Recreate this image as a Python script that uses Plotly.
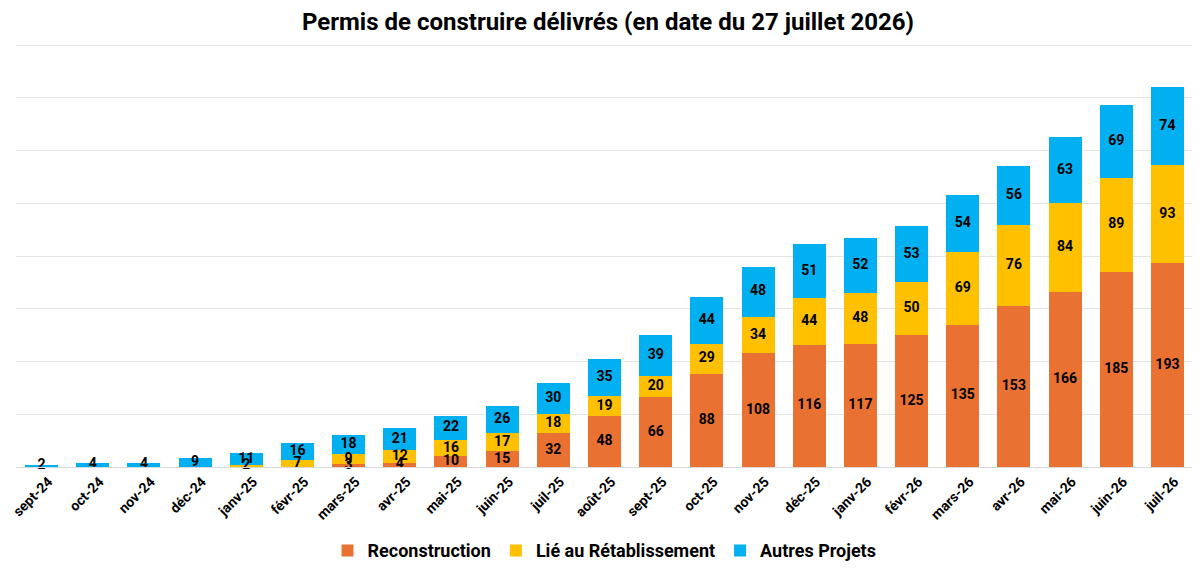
import plotly.graph_objects as go

mois = ['sept-24', 'oct-24', 'nov-24', 'déc-24', 'janv-25', 'févr-25', 'mars-25', 'avr-25',
        'mai-25', 'juin-25', 'juil-25', 'août-25', 'sept-25', 'oct-25', 'nov-25', 'déc-25',
        'janv-26', 'févr-26', 'mars-26', 'avr-26', 'mai-26', 'juin-26', 'juil-26']
reconstruction = [0, 0, 0, 0, 0, 0, 3, 4, 10, 15, 32, 48, 66, 88, 108, 116, 117, 125, 135, 153, 166, 185, 193]
retablissement = [0, 0, 0, 0, 2, 7, 9, 12, 16, 17, 18, 19, 20, 29, 34, 44, 48, 50, 69, 76, 84, 89, 93]
autres = [2, 4, 4, 9, 11, 16, 18, 21, 22, 26, 30, 35, 39, 44, 48, 51, 52, 53, 54, 56, 63, 69, 74]

series = [
    ('Reconstruction', reconstruction, '#E97132'),
    ('Lié au Rétablissement', retablissement, '#FFC000'),
    ('Autres Projets', autres, '#00B0F0'),
]

police = 'Roboto'

fig = go.Figure()
for nom, vals, couleur in series:
    fig.add_trace(go.Bar(
        x=mois, y=vals, name=nom,
        marker=dict(color=couleur, line=dict(width=0)),
        hoverinfo='x+y+name',
    ))

# étiquettes au-dessus de toutes les barres (centre de chaque segment)
base = [0] * len(mois)
for nom, vals, couleur in series:
    milieux = [b + v / 2 for b, v in zip(base, vals)]
    fig.add_trace(go.Scatter(
        x=mois, y=milieux, mode='text',
        text=[str(v) if v else '' for v in vals],
        textfont=dict(family=police, size=14, color='black', weight='bold'),
        showlegend=False, hoverinfo='skip', cliponaxis=False,
    ))
    base = [b + v for b, v in zip(base, vals)]

fig.update_layout(
    barmode='stack',
    bargap=0.355,
    width=1200, height=569,
    margin=dict(l=8, r=15, t=36, b=101),
    paper_bgcolor='white', plot_bgcolor='white',
    title=dict(text='<b>Permis de construire délivrés (en date du 27 juillet 2026)</b>',
               x=0.5, xanchor='center', y=0.976, yanchor='middle',
               font=dict(family='Roboto', size=24, color='black')),
    legend=dict(orientation='h', x=0.5, xanchor='center', y=-0.198, yanchor='middle',
                font=dict(family=police, size=18, color='black', weight='bold'),
                traceorder='normal', itemwidth=30),
    showlegend=True,
)
fig.update_xaxes(range=[-0.5, len(mois) - 0.5], tickangle=-45,
                 tickfont=dict(family=police, size=14, color='black', weight='bold'),
                 ticklabelshift=7,
                 showline=True, linecolor='#d9d9d9', ticks='', showgrid=False, automargin=False)
fig.update_yaxes(range=[0, 401], dtick=50, showticklabels=False, gridcolor='#e3e3e3',
                 zeroline=False, ticks='', automargin=False)

fig.write_html("out.html")
